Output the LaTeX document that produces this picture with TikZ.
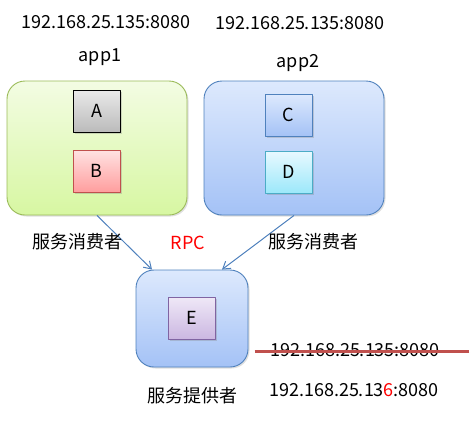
\documentclass[tikz,border=0pt]{standalone}
\usepackage{fontspec}
\setmainfont{Noto Sans CJK SC}
\usepackage{xcolor}
\usetikzlibrary{arrows.meta,shadows}
\definecolor{greenline}{HTML}{9BBB59}
\definecolor{blueline}{HTML}{4F81BD}
\definecolor{redline}{HTML}{C0504D}
\definecolor{cyanline}{HTML}{4BACC6}
\definecolor{purpleline}{HTML}{8064A2}
\definecolor{greentop}{HTML}{F3FCE3}
\definecolor{greenbot}{HTML}{D7F7A2}
\definecolor{bluetop}{HTML}{DDE9FD}
\definecolor{bluebot}{HTML}{A4C2F6}
\definecolor{graytop}{HTML}{E9E9E9}
\definecolor{graybot}{HTML}{BBBBBB}
\definecolor{redtop}{HTML}{FFE2E2}
\definecolor{redbot}{HTML}{FF9E9E}
\definecolor{cyantop}{HTML}{E8F9FF}
\definecolor{cyanbot}{HTML}{9CE8FA}
\definecolor{purpletop}{HTML}{EFE8F7}
\definecolor{purplebot}{HTML}{CBB7E1}
\tikzset{
  every picture/.style={font=\fontsize{18}{21}\selectfont, line join=round, >=Stealth},
  box/.style={draw, line width=0.9pt, rounded corners=18pt, inner sep=0pt,
    drop shadow={shadow xshift=1.5pt, shadow yshift=-1.5pt, opacity=0.25}},
  greenbox/.style={box, draw=greenline, top color=greentop, bottom color=greenbot,
    minimum width=180pt, minimum height=134pt},
  bluebox/.style={box, draw=blueline, top color=bluetop, bottom color=bluebot,
    minimum width=180pt, minimum height=134pt},
  comp/.style={draw, line width=0.8pt, inner sep=0pt, minimum width=47pt, minimum height=42pt,
    drop shadow={shadow xshift=1.5pt, shadow yshift=-1.5pt, opacity=0.3}},
  call/.style={draw=blueline, line width=1pt, -{Straight Barb[length=7pt,width=9pt]}},
}
\begin{document}
\begin{tikzpicture}[x=1pt,y=-1pt]
\useasboundingbox (0,0) rectangle (474,421);
% consumer apps
\node (ip1) at (106,22) {192.168.25.135:8080};
\node (ip2) at (300,23) {192.168.25.135:8080};
\node (app1) at (100,57) {app1};
\node (app2) at (298,63) {app2};
\node[greenbox] (app1box) at (97,148) {};
\node[bluebox] (app2box) at (294,148) {};
\node[comp, draw=black, top color=graytop, bottom color=graybot] (A) at (96.5,111) {A};
\node[comp, draw=redline, top color=redtop, bottom color=redbot] (B) at (96.5,171) {B};
\node[comp, draw=blueline, top color=bluetop, bottom color=bluebot] (C) at (288.5,115) {C};
\node[comp, draw=cyanline, top color=cyantop, bottom color=cyanbot] (D) at (288.5,172) {D};
% provider
\node[box, draw=blueline, top color=bluetop, bottom color=bluebot,
  minimum width=112pt, minimum height=97pt] (provbox) at (192,318.5) {};
\node[comp, draw=purpleline, top color=purpletop, bottom color=purplebot] (E) at (192,318) {E};
\draw[call] (app1box.south) -- ([xshift=-40pt]provbox.north);
\draw[call] (app2box.south) -- ([xshift=30pt]provbox.north);
\node (cons1) at (77,242) {服务消费者};
\node[text=red] (rpc) at (188,243) {RPC};
\node (cons2) at (313,242) {服务消费者};
\node (prov) at (192,396) {服务提供者};
% addresses
\node (oldip) at (355,350) {192.168.25.135:8080};
\draw[redline, line width=3pt, drop shadow={shadow xshift=1pt, shadow yshift=-1.5pt, opacity=0.3}]
  ([xshift=-12pt,yshift=-1pt]oldip.west) -- ([xshift=26pt,yshift=-1pt]oldip.east);
\node (newip) at (354,390) {192.168.25.13\textcolor{red}{6}:8080};
\end{tikzpicture}
\end{document}
